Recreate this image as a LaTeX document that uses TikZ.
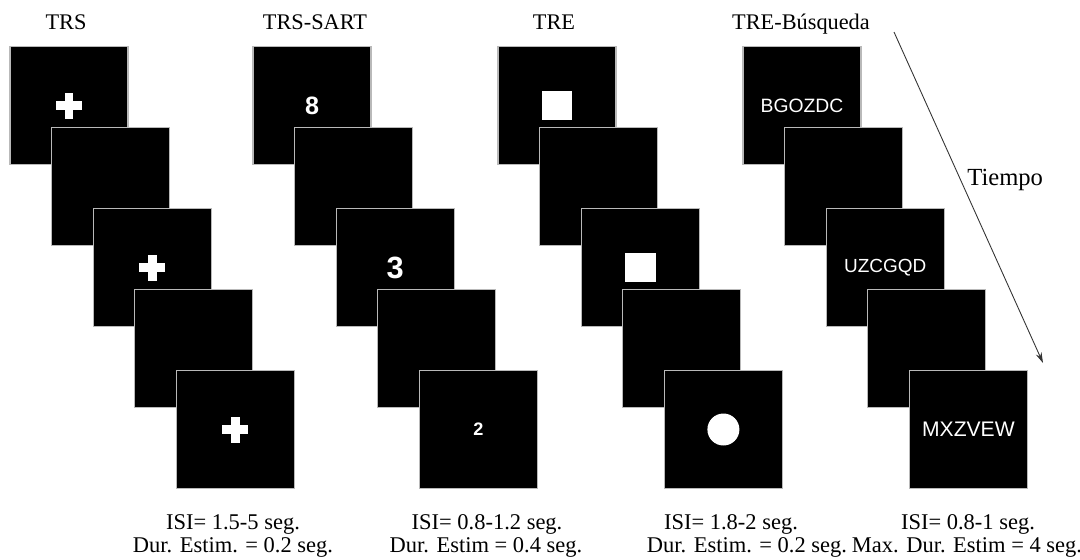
\documentclass[tikz,border=0pt]{standalone}
\usepackage{fontspec}
\setmainfont{Liberation Serif}
\newfontfamily\stimfont{Liberation Sans}
\usetikzlibrary{arrows.meta}

% white marks drawn inside the screens
\newcommand{\cruz}{\makebox[0pt]{\rule[-0.09cm]{0.52cm}{0.18cm}}\makebox[0pt]{\rule[-0.26cm]{0.18cm}{0.52cm}}}
\newcommand{\cuadro}{\rule[-0.29cm]{0.62cm}{0.58cm}}

\tikzset{
  screen/.style={draw=gray!55, line width=0.6pt, fill=black, minimum size=2.36cm,
                 inner sep=0pt, text=white, font=\stimfont},
  tasktitle/.style={anchor=base, font=\fontsize{12.7}{15}\selectfont},
  info/.style={anchor=base, font=\fontsize{12.8}{15}\selectfont},
}

\begin{document}
\begin{tikzpicture}[x=0.02cm, y=-0.02cm, >={Stealth[length=6pt,width=3.5pt]}]
\useasboundingbox (0,0) rectangle (1080,559);

% TRS
\foreach \i/\stim in {1/\cruz, 2/{}, 3/\cruz, 4/{}, 5/\cruz}
  \node[screen] (trs-\i) at ({69+41.6*(\i-1)}, {105.5+81*(\i-1)}) {\stim};
% TRS-SART
\foreach \i/\stim in {1/{\bfseries\fontsize{14.3}{15}\selectfont 8}, 2/{},
                      3/{\bfseries\fontsize{17.5}{18}\selectfont 3}, 4/{},
                      5/{\bfseries\fontsize{10.3}{12}\selectfont 2}}
  \node[screen] (sart-\i) at ({312+41.6*(\i-1)}, {105.5+81*(\i-1)}) {\stim};
% TRE
\foreach \i/\stim in {1/\cuadro, 2/{}, 3/\cuadro, 4/{}, 5/{}}
  \node[screen] (tre-\i) at ({557+41.6*(\i-1)}, {105.5+81*(\i-1)}) {\stim};
\fill[white] (tre-5.center) circle[radius=16];
% TRE-Busqueda
\foreach \i/\stim in {1/{\fontsize{11}{13}\selectfont BGOZDC}, 2/{},
                      3/{\fontsize{10.8}{13}\selectfont UZCGQD}, 4/{},
                      5/{\fontsize{12}{14}\selectfont MXZVEW}}
  \node[screen] (busq-\i) at ({802+41.6*(\i-1)}, {105.5+81*(\i-1)}) {\stim};

\node[tasktitle] (t-trs)  at (66,29)  {TRS};
\node[tasktitle] (t-sart) at (315,29) {TRS-SART};
\node[tasktitle] (t-tre)  at (554,29) {TRE};
\node[tasktitle] (t-busq) at (801,29) {TRE-Búsqueda};

\node[info] (isi-trs)  at (233,529) {ISI= 1.5-5 seg.};
\node[info] (dur-trs)  at (233,552) {Dur. Estim. = 0.2 seg.};
\node[info] (isi-sart) at (487,529) {ISI= 0.8-1.2 seg.};
\node[info] (dur-sart) at (486,552) {Dur. Estim = 0.4 seg.};
\node[info] (isi-tre)  at (731,529) {ISI= 1.8-2 seg.};
\node[info] (dur-tre)  at (747,552) {Dur. Estim. = 0.2 seg.};
\node[info] (isi-busq) at (968,529) {ISI= 0.8-1 seg.};
\node[info] (dur-busq) at (967,552) {Max. Dur. Estim = 4 seg.};

% time arrow
\coordinate (tiempo-a) at (894,32);
\coordinate (tiempo-b) at (1043,363);
\draw[->, gray!40!black, line width=0.5pt] (tiempo-a) -- (tiempo-b);
\node[anchor=base west, font=\fontsize{14}{16}\selectfont, inner sep=0pt] (tiempo) at (967,185) {Tiempo};
\end{tikzpicture}
\end{document}
